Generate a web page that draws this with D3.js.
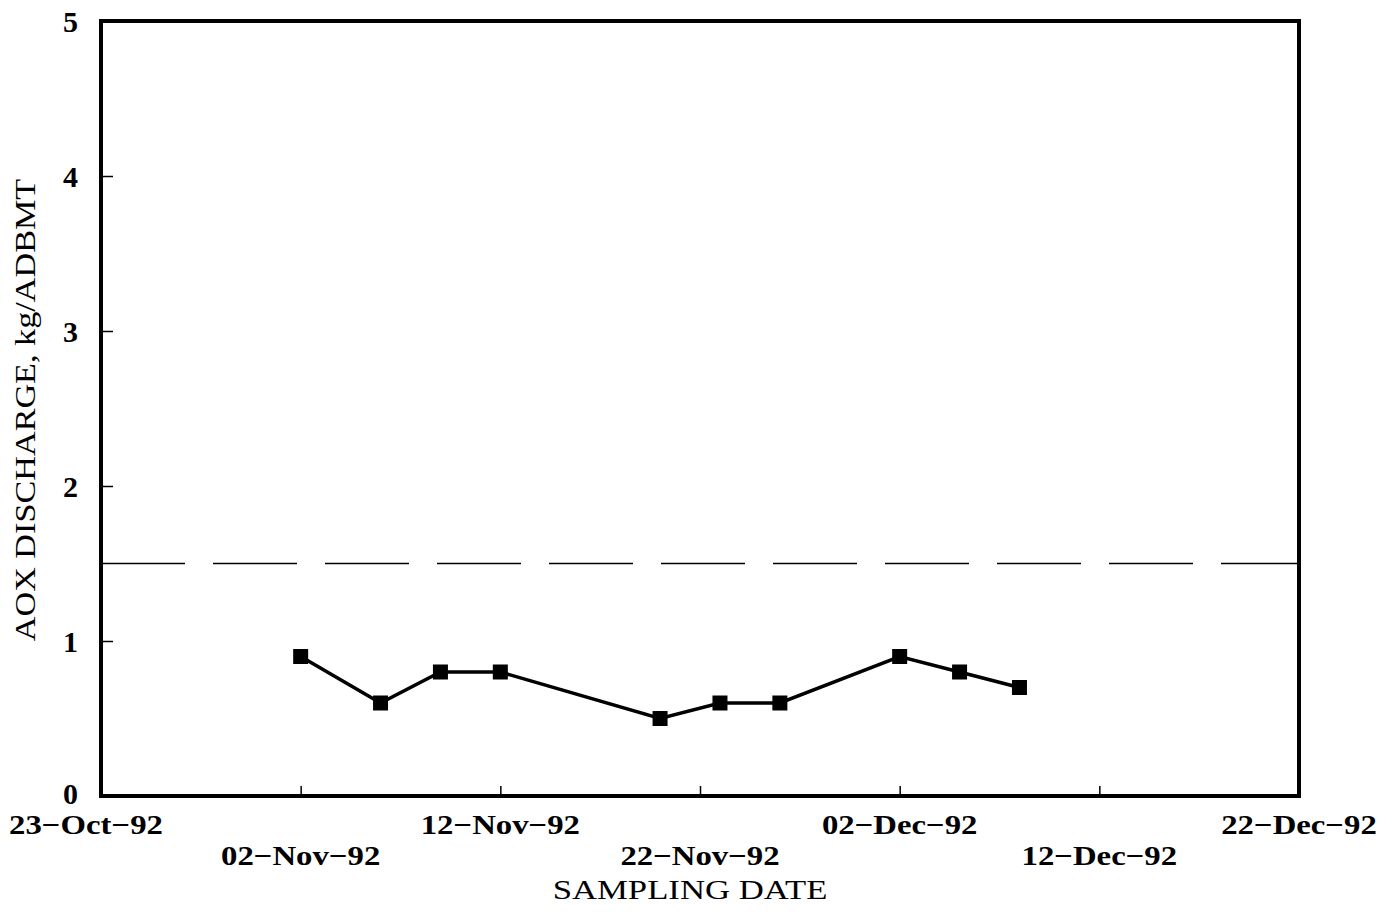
<!DOCTYPE html>
<html>
<head>
<meta charset="utf-8">
<script src="https://cdn.jsdelivr.net/npm/d3@7"></script>
<style>
  html, body { margin: 0; padding: 0; background: #fff; }
  svg { display: block; }
</style>
</head>
<body>
<svg id="chart" width="1400" height="915"></svg>
<script>
// AOX discharge samples (kg/ADBMT) by sampling date
const sampleDates = ["1992-11-02", "1992-11-06", "1992-11-09", "1992-11-12", "1992-11-20",
                     "1992-11-23", "1992-11-26", "1992-12-02", "1992-12-05", "1992-12-08"];
const aoxValues = [0.9, 0.6, 0.8, 0.8, 0.5, 0.6, 0.6, 0.9, 0.8, 0.7];

// Permit limit shown as a dashed reference line
const limitValue = 1.5;

const xTickDates = ["1992-10-23", "1992-11-02", "1992-11-12", "1992-11-22",
                    "1992-12-02", "1992-12-12", "1992-12-22"];
const xTickLabels = ["23\u2212Oct\u221292", "02\u2212Nov\u221292", "12\u2212Nov\u221292", "22\u2212Nov\u221292",
                     "02\u2212Dec\u221292", "12\u2212Dec\u221292", "22\u2212Dec\u221292"];
const yTicks = [0, 1, 2, 3, 4, 5];

(function () {
  const parse = d3.utcParse("%Y-%m-%d");
  const svg = d3.select("#chart");
  const font = "'Liberation Serif', 'Times New Roman', serif";
  const stretch = 1.17; // wide typesetting of the labels

  const pl = 101, pr = 1299, pt = 21, pb = 796;

  const x = d3.scaleUtc()
    .domain([parse(xTickDates[0]), parse(xTickDates[xTickDates.length - 1])])
    .range([pl, pr]);
  const y = d3.scaleLinear().domain([0, 5]).range([pb, pt]);

  // Inward ticks on left and bottom
  const yAxis = d3.axisLeft(y).tickValues(yTicks.slice(1, 5)).tickSize(-12).tickFormat("");
  svg.append("g").attr("transform", `translate(${pl},0)`).call(yAxis)
    .call(g => g.select(".domain").remove())
    .call(g => g.selectAll("line").attr("stroke", "#000").attr("stroke-width", 1.5));

  const xAxis = d3.axisBottom(x).tickValues(xTickDates.slice(1, 6).map(parse)).tickSize(-10).tickFormat("");
  svg.append("g").attr("transform", `translate(0,${pb})`).call(xAxis)
    .call(g => g.select(".domain").remove())
    .call(g => g.selectAll("line").attr("stroke", "#000").attr("stroke-width", 1.5));

  // Frame
  svg.append("rect")
    .attr("x", pl).attr("y", pt)
    .attr("width", pr - pl).attr("height", pb - pt)
    .attr("fill", "none").attr("stroke", "#000").attr("stroke-width", 4);

  // Y tick labels
  svg.append("g").selectAll("text").data(yTicks).join("text")
    .attr("x", 78).attr("y", d => y(d) - (d === 0 ? 3 : 0))
    .attr("dy", "0.36em")
    .attr("text-anchor", "end")
    .attr("font-family", font).attr("font-weight", "bold").attr("font-size", 30)
    .text(d => d);

  // X tick labels, staggered on two rows
  svg.append("g").selectAll("text").data(xTickDates).join("text")
    .attr("transform", (d, i) =>
      `translate(${x(parse(d)) - (i === 0 ? 15 : 0)},${i % 2 === 0 ? 834 : 865}) scale(${stretch},1)`)
    .attr("text-anchor", "middle")
    .attr("font-family", font).attr("font-weight", "bold").attr("font-size", 28)
    .text((d, i) => xTickLabels[i]);

  // Axis titles
  svg.append("text")
    .attr("transform", `translate(690,899) scale(1.24,1)`)
    .attr("text-anchor", "middle")
    .attr("font-family", font).attr("font-size", 28)
    .text("SAMPLING DATE");

  svg.append("text")
    .attr("transform", `translate(35,410) rotate(-90) scale(1.14,1)`)
    .attr("text-anchor", "middle")
    .attr("font-family", font).attr("font-size", 30)
    .text("AOX DISCHARGE, kg/ADBMT");

  // Limit line
  svg.append("line")
    .attr("x1", pl).attr("x2", pr)
    .attr("y1", y(limitValue)).attr("y2", y(limitValue))
    .attr("stroke", "#000").attr("stroke-width", 1.5)
    .attr("stroke-dasharray", "84,28");

  // Data series
  const data = sampleDates.map((d, i) => ({ date: parse(d), value: aoxValues[i] }));
  const line = d3.line().x(d => x(d.date)).y(d => y(d.value));
  svg.append("path").datum(data)
    .attr("d", line)
    .attr("fill", "none").attr("stroke", "#000").attr("stroke-width", 3.5);

  const ms = 15;
  svg.append("g").selectAll("rect").data(data).join("rect")
    .attr("x", d => x(d.date) - ms / 2)
    .attr("y", d => y(d.value) - ms / 2)
    .attr("width", ms).attr("height", ms)
    .attr("fill", "#000");
})();
</script>
</body>
</html>
